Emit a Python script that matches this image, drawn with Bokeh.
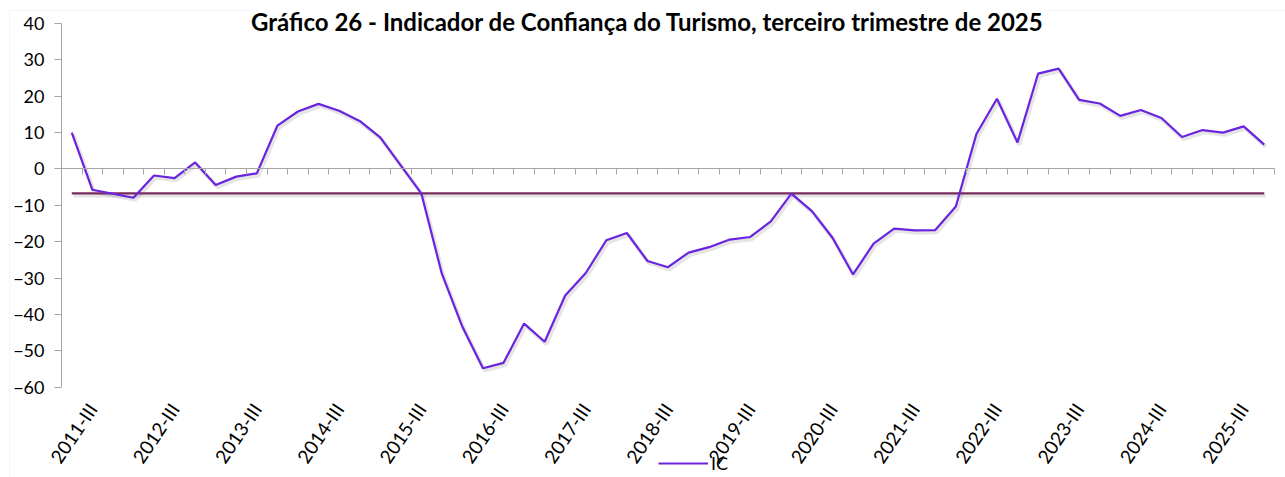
from math import pi
from bokeh.plotting import figure
from bokeh.models import (Range1d, LinearAxis, FixedTicker, Label, Legend,
                          LegendItem, BoxAnnotation)
from bokeh.embed import file_html
from bokeh.resources import INLINE

# ---------------- data ----------------
years = list(range(2011, 2026))
roman = ["I", "II", "III", "IV"]
quarters = [f"{y}-{q}" for y in years for q in roman][:59]   # 2011-I ... 2025-III

ict = [10.0, -5.7, -6.8, -7.9, -1.8, -2.5, 1.8, -4.4, -2.1, -1.2,
       11.9, 15.8, 17.9, 16.0, 13.2, 8.7, 1.0, -6.7, -28.8, -43.4,
       -54.8, -53.3, -42.5, -47.5, -34.8, -28.6, -19.6, -17.6, -25.3, -27.0,
       -23.0, -21.5, -19.4, -18.7, -14.4, -6.8, -11.6, -18.9, -29.0, -20.5,
       -16.4, -16.9, -16.8, -10.3, 9.6, 19.3, 7.3, 26.2, 27.6, 19.0,
       18.0, 14.6, 16.2, 14.0, 8.8, 10.7, 10.0, 11.7, 6.7]

avg_ict = -6.7

tick_labels = ["2011-III", "2012-III", "2013-III", "2014-III", "2015-III",
               "2016-III", "2017-III", "2018-III", "2019-III", "2020-III",
               "2021-III", "2022-III", "2023-III", "2024-III", "2025-III"]

y_ticks = [-60, -50, -40, -30, -20, -10, 0, 10, 20, 30, 40]

title_text = "Gráfico 26 - Indicador de Confiança do Turismo, terceiro trimestre de 2025"
legend_label = "IC"

# ---------------- layout helpers (pixels -> data) ----------------
W, H = 1285, 477
n = len(quarters)
PX_LEFT, PX_RIGHT = 61.0, 1274.0          # category band edges
PX_TOP, PX_BOTTOM = 23.0, 386.7           # value axis top (40) / bottom (-60)
ux = (PX_RIGHT - PX_LEFT) / n             # px per category
uy = (PX_BOTTOM - PX_TOP) / (y_ticks[-1] - y_ticks[0])   # px per unit
LABEL_SHIFT = -1.0                        # rotated labels sit left of their quarter (as in source)


def dx(px):
    return -0.5 + (px - PX_LEFT) / ux


def dy(py):
    return y_ticks[-1] - (py - PX_TOP) / uy


FONT = "Lato"
xs = list(range(n))
label_pos = [quarters.index(t) + LABEL_SHIFT for t in tick_labels]

p = figure(width=W, height=H,
           x_range=Range1d(dx(0), dx(W)), y_range=Range1d(dy(H), dy(0)),
           x_axis_type=None, y_axis_type=None,
           output_backend="svg", toolbar_location=None,
           min_border=0)
p.outline_line_color = None
p.background_fill_color = "white"
p.border_fill_color = "white"

# chart area border (light gray)
p.add_layout(BoxAnnotation(left=dx(9), right=dx(W + 50), top=dy(10), bottom=dy(H + 50),
                           fill_alpha=0, line_color="#D9D9D9", line_width=1))

# value axis
yaxis = LinearAxis(ticker=FixedTicker(ticks=y_ticks, minor_ticks=[]),
                   fixed_location=-0.5, bounds=(y_ticks[0], y_ticks[-1]))
yaxis.axis_line_color = "#A6A6A6"
yaxis.major_tick_line_color = "#A6A6A6"
yaxis.major_tick_out = 7
yaxis.major_tick_in = 0
yaxis.major_label_standoff = 10
yaxis.major_label_text_font = FONT
yaxis.major_label_text_font_size = "18px"
yaxis.major_label_text_color = "black"
p.add_layout(yaxis, "left")

# category axis line crossing at zero, ticks between categories
zaxis = LinearAxis(ticker=FixedTicker(ticks=[], minor_ticks=[i - 0.5 for i in range(n + 1)]),
                   fixed_location=0, bounds=(-0.5, n - 0.5))
zaxis.axis_line_color = "#A6A6A6"
zaxis.minor_tick_line_color = "#A6A6A6"
zaxis.minor_tick_out = 6
zaxis.minor_tick_in = 0
zaxis.major_tick_line_color = None
p.add_layout(zaxis, "below")

# category labels at the bottom of the plot area
xaxis = LinearAxis(ticker=FixedTicker(ticks=label_pos, minor_ticks=[]),
                   fixed_location=y_ticks[0], bounds=(-0.5, n - 0.5))
xaxis.major_label_overrides = {pos: t for pos, t in zip(label_pos, tick_labels)}
xaxis.major_label_orientation = 0.31 * pi
xaxis.axis_line_color = None
xaxis.major_tick_line_color = None
xaxis.minor_tick_line_color = None
xaxis.major_label_standoff = 12
xaxis.major_label_text_font = FONT
xaxis.major_label_text_font_size = "19px"
xaxis.major_label_text_color = "black"
p.add_layout(xaxis, "below")

# soft shadows
p.line([x + 0.08 for x in xs], [v - 0.6 for v in ict], line_color="#000000",
       line_alpha=0.10, line_width=4)
p.line([xs[0] + 0.08, xs[-1] + 0.08], [avg_ict - 0.6, avg_ict - 0.6],
       line_color="#000000", line_alpha=0.10, line_width=4)

# series
avg_r = p.line([xs[0], xs[-1]], [avg_ict, avg_ict], line_color="#7A2A5C", line_width=2.2)
main_r = p.line(xs, ict, line_color="#6A24E0", line_width=2.2)

# title
p.add_layout(Label(x=dx(647), y=dy(21), text=title_text,
                   text_align="center", text_baseline="alphabetic",
                   text_font=FONT, text_font_style="bold", text_font_size="24px",
                   text_color="black", background_fill_color="white"))

# legend
legend = Legend(items=[LegendItem(label=legend_label, renderers=[main_r])],
                location=(658, 3), glyph_width=50, glyph_height=20,
                label_standoff=3, padding=0, margin=0, spacing=0,
                border_line_color=None, background_fill_alpha=0,
                label_text_font=FONT, label_text_font_size="18px",
                label_text_color="black")
p.add_layout(legend)

open("out.html", "w").write(file_html(p, INLINE))
